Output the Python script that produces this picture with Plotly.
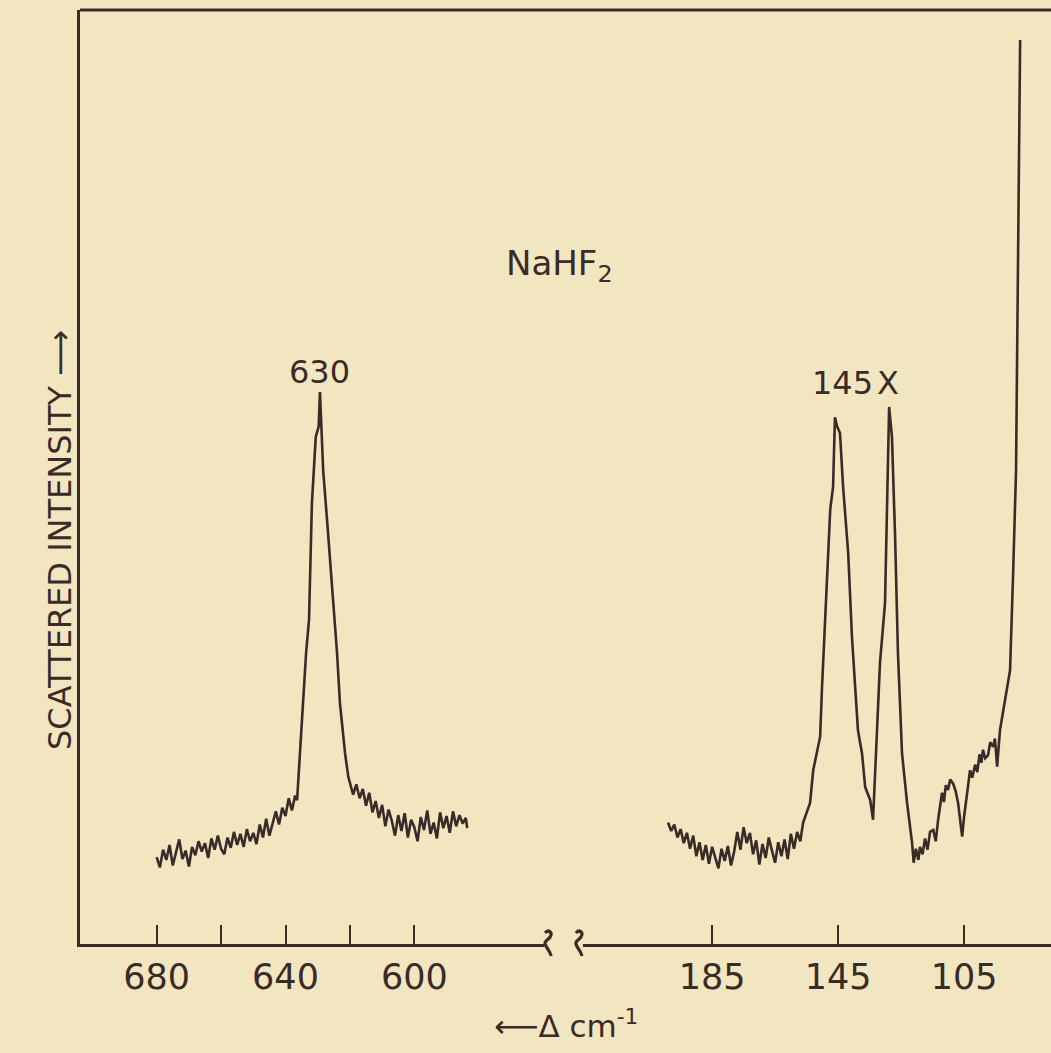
import plotly.graph_objects as go

# ---- data ----
# Left panel: 680 .. 584 cm-1 (NaHF2 630 band)
left_wn = [680, 679, 678, 677, 676, 675, 674, 673, 672, 671, 670, 669, 668, 667, 666, 665,
           664, 663, 662, 661, 660, 659, 658, 657, 656, 655, 654, 653, 652, 651, 650, 649,
           648, 647, 646, 645, 644, 643, 642, 641, 640, 639, 638, 637,
           636.4, 635.5, 633.6, 632.7, 631.8, 630.6, 629.7, 629.3, 629.0, 628.3, 627.1, 626.8,
           625.2, 624.0, 623.1, 621.5, 620.5, 620.0,
           619, 618, 617, 616, 615, 614, 613, 612, 611, 610, 609, 608, 607, 606, 605, 604,
           603, 602, 601, 600, 599, 598, 597, 596, 595, 594, 593, 592, 591, 590, 589, 588,
           587, 586, 585, 584, 583.6]
left_int = [9.3, 8.2, 10.1, 9.0, 10.6, 8.4, 9.8, 11.2, 9.1, 10.0, 8.3, 10.4, 9.5, 11.0, 9.9, 10.8,
            9.2, 11.3, 10.1, 11.6, 10.2, 9.6, 11.4, 10.3, 12.0, 10.6, 11.8, 10.4, 12.3, 11.0, 11.9, 10.7,
            12.8, 11.4, 13.4, 11.6, 12.9, 14.2, 12.8, 14.6, 13.7, 15.6, 14.3, 15.9,
            15.4, 20.4, 31.2, 34.7, 47.2, 54.3, 55.4, 59.1, 56.1, 50.7, 45.4, 44.0,
            36.5, 31.2, 25.8, 20.4, 17.9, 17.2,
            16.0, 17.1, 15.6, 16.6, 14.8, 16.2, 14.1, 15.3, 13.5, 14.9, 12.6, 14.4, 13.2, 11.6, 13.8, 12.1,
            14.0, 11.4, 13.3, 12.5, 11.0, 13.6, 12.2, 14.3, 11.8, 13.0, 11.3, 14.1, 12.4, 13.7, 11.9, 14.2,
            12.6, 13.8, 12.9, 13.5, 12.4]

# Right panel: 199 .. 87 cm-1 (145 band, X band, Rayleigh wing)
right_wn = [199, 198, 197, 196, 195, 194, 193, 192, 191, 190, 189, 188, 187, 186, 185, 184,
            183, 182, 181, 180, 179, 178, 177, 176, 175, 174, 173, 172, 171, 170, 169, 168,
            167, 166, 165, 164, 163, 162, 161, 160, 159, 158, 157,
            156.1, 153.9, 152.9, 150.7, 150.1, 149.1, 147.5, 146.6, 146.0, 145.3, 144.4, 143.4,
            141.8, 140.6, 138.7, 137.4, 136.4, 134.8, 133.9, 132.6, 131.7, 130.1, 129.4, 128.8,
            127.9, 126.9, 126.0, 124.7, 123.1, 121.5, 121.0,
            120.3, 119.5, 119.0, 118.2, 117.4, 116.6, 115.8, 114.8, 114.0, 113.2, 112.6, 112.0,
            111.4, 110.8, 110.1, 109.4, 108.5, 107.7, 106.9, 106.2, 105.6, 105.0, 104.4, 103.7,
            103.1, 102.4, 101.5, 100.8, 100.1, 99.5, 99.0, 98.3, 97.4, 96.7, 95.8, 95.2, 94.5,
            93.6, 92.5, 91.3, 90.4, 89.4, 88.5, 88.2, 87.5, 87.2]
right_int = [13.0, 12.1, 12.8, 11.4, 12.3, 10.8, 11.9, 10.2, 11.6, 9.4, 10.9, 9.0, 10.6, 8.6, 10.4, 9.3,
             8.1, 10.2, 8.9, 10.5, 8.4, 9.9, 12.0, 10.1, 12.5, 10.8, 11.9, 9.6, 11.1, 8.5, 10.7, 9.2,
             11.4, 10.0, 8.7, 10.9, 9.4, 11.2, 9.1, 11.8, 10.2, 12.0, 11.0,
             13.0, 15.1, 18.6, 22.2, 27.5, 34.7, 46.5, 48.9, 56.4, 55.4, 54.7, 48.9,
             41.9, 32.9, 22.9, 20.4, 16.8, 15.4, 13.3, 23.2, 30.1, 36.5, 47.2, 57.5,
             54.3, 43.6, 31.2, 20.4, 15.1, 10.8, 8.7,
             10.2, 9.0, 10.4, 9.6, 11.3, 10.1, 12.0, 12.2, 11.0, 13.4, 14.8, 16.2,
             15.2, 17.0, 16.5, 17.6, 17.2, 16.4, 15.1, 13.2, 11.5, 13.6, 15.4, 17.0,
             18.6, 17.8, 19.2, 18.4, 20.3, 19.4, 20.8, 19.9, 20.2, 21.6, 21.1, 22.0, 19.0,
             22.9, 25.0, 27.5, 29.3, 40.0, 50.7, 61.5, 85.0, 96.8]

left_ticks = [680, 640, 600]
left_ticktext = ["680", "640", "600"]
left_minor_ticks = [660, 620]
right_ticks = [185, 145, 105]
right_ticktext = ["185", "145", "105"]

BG = "#f2e6c1"
INK = "#3a2a28"
FONT = "DejaVu Sans"

fig = go.Figure()
fig.add_trace(go.Scatter(x=left_wn, y=left_int, mode="lines", xaxis="x", yaxis="y",
                         line=dict(color=INK, width=2.6), showlegend=False, hoverinfo="skip"))
fig.add_trace(go.Scatter(x=right_wn, y=right_int, mode="lines", xaxis="x2", yaxis="y",
                         line=dict(color=INK, width=2.6), showlegend=False, hoverinfo="skip"))

axis_common = dict(showline=True, linecolor=INK, linewidth=3, ticks="inside", ticklen=19,
                   tickwidth=2, tickcolor=INK, showgrid=False, zeroline=False,
                   tickfont=dict(family=FONT, size=35, color=INK), ticklabelstandoff=0,
                   tickmode="array")

fig.update_layout(
    width=1051, height=1053,
    margin=dict(l=80, r=0, t=10, b=109),
    paper_bgcolor=BG, plot_bgcolor=BG,
    xaxis=dict(domain=[0, 0.478], range=[703.8, 559.7], anchor="y",
               tickvals=left_ticks, ticktext=left_ticktext,
               minor=dict(tickvals=left_minor_ticks, ticks="inside", ticklen=19,
                          tickwidth=2, tickcolor=INK, showgrid=False),
               **axis_common),
    xaxis2=dict(domain=[0.518, 1], range=[226.0, 77.4], anchor="y",
                tickvals=right_ticks, ticktext=right_ticktext, **axis_common),
    yaxis=dict(range=[0, 100], showline=True, linecolor=INK, linewidth=3,
               showticklabels=False, ticks="", showgrid=False, zeroline=False),
)

# top frame line across the whole width
fig.add_shape(type="line", xref="paper", yref="paper", x0=0, x1=1, y0=1, y1=1,
              line=dict(color=INK, width=3))

# axis break squiggles
squiggle_left = "M 1,11 C 4,15 9,12 6,7 C 4,4 0,3 1,0 C 2,-4 6,-7 7,-12"
squiggle_right = "M -7,11 C -4,15 1,12 -2,7 C -4,4 -8,3 -7,0 C -6,-4 -2,-7 -1,-12"
for xa, xpos, pth in (("x domain", 1.0, squiggle_left), ("x2 domain", 0.0, squiggle_right)):
    fig.add_shape(type="path", xref=xa, yref="paper", xsizemode="pixel", ysizemode="pixel",
                  xanchor=xpos, yanchor=0, path=pth,
                  line=dict(color=INK, width=3.2))

# text
fig.add_annotation(text="NaHF<sub>2</sub>", xref="paper", yref="paper", x=0.494, y=0.753,
                   showarrow=False, font=dict(family=FONT, size=34, color=INK))
fig.add_annotation(text="630", xref="x", yref="y", x=629.3, y=61.2, showarrow=False,
                   font=dict(family=FONT, size=32, color=INK))
fig.add_annotation(text="145", xref="x2", yref="y", x=143.7, y=60.1, showarrow=False,
                   font=dict(family=FONT, size=32, color=INK))
fig.add_annotation(text="X", xref="x2", yref="y", x=129.1, y=60.1, showarrow=False,
                   font=dict(family=FONT, size=32, color=INK))
fig.add_annotation(text="SCATTERED INTENSITY ⟶", xref="paper", yref="paper", x=0, y=0.4326,
                   xshift=-41, textangle=-90, showarrow=False,
                   font=dict(family=FONT, size=32, color=INK))
fig.add_annotation(text="⟵Δ cm<sup>-1</sup>", xref="paper", yref="paper", x=0.5, y=0,
                   yshift=-80, yanchor="middle", showarrow=False,
                   font=dict(family=FONT, size=31, color=INK))

fig.write_html(
    "out.html",
    config={"displayModeBar": False},
    post_script="document.body.style.margin='0';document.body.style.background='" + BG +
                "';document.body.style.overflow='hidden';",
)
